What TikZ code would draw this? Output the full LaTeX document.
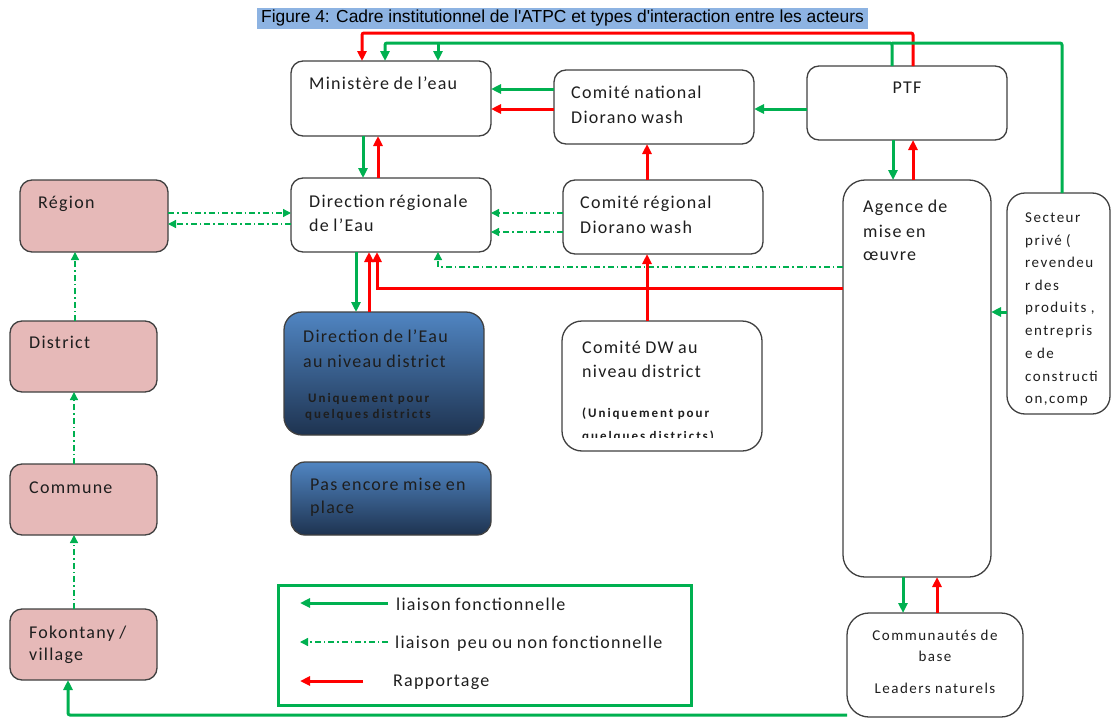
\documentclass[tikz,border=0pt]{standalone}
\usepackage{fontspec}
\setmainfont{Carlito}[LetterSpace=7,WordSpace=0.85]
\newfontfamily\titlefont{Liberation Sans}
\newfontfamily\smallfont{Carlito}[LetterSpace=10,WordSpace=0.9]
\newfontfamily\tinyfont{Carlito}[LetterSpace=15,WordSpace=0.9]
\usetikzlibrary{arrows.meta}
\definecolor{gr}{HTML}{00B050}
\definecolor{rd}{HTML}{FF0000}
\definecolor{pinkf}{HTML}{E6B9B8}
\definecolor{bord}{HTML}{404040}
\definecolor{hl}{HTML}{8DB3E2}
\definecolor{bluet}{HTML}{5085C2}
\definecolor{blueb}{HTML}{1E3350}
\definecolor{ink}{HTML}{1E1E1E}
\newcommand\mkbox[6][]{%
  \node[box,#1,minimum width={#5-#3},minimum height={#6-#4}] (#2) at ({(#3+#5)/2},{(#4+#6)/2}) {};}
\begin{document}
\begin{tikzpicture}[x=1pt,y=-1pt,
  box/.style={draw=bord, line width=1.3pt, rounded corners=12pt, fill=white, inner sep=0pt, outer sep=0pt},
  pinkbox/.style={fill=pinkf},
  bluebox/.style={top color=bluet, bottom color=blueb},
  txt/.style={inner sep=0pt, anchor=base west, text=ink, font=\fontsize{18}{22}\selectfont},
  smalltxt/.style={inner sep=0pt, anchor=base west, text=ink, font=\tinyfont\bfseries\fontsize{13}{15}\selectfont},
  sectxt/.style={inner sep=0pt, anchor=base west, text=ink, font=\smallfont\fontsize{15}{18}\selectfont},
  comtxt/.style={inner sep=0pt, anchor=base, text=ink, font=\smallfont\fontsize{15}{18}\selectfont},
  garrow/.style={draw=gr, line width=3pt, -{Triangle[length=10pt,width=9pt]}},
  gline/.style={draw=gr, line width=3pt},
  rarrow/.style={draw=rd, line width=3pt, -{Triangle[length=10pt,width=9pt]}},
  darrow/.style={draw=gr, line width=1.3pt, dash pattern=on 6pt off 3pt on 1.5pt off 3pt, -{Triangle[length=8pt,width=8pt]}},
]
\useasboundingbox (0,0) rectangle (1112,720);

% title
\node[fill=hl, inner sep=0pt, minimum width=611, minimum height=21, font=\titlefont\fontsize{17.4}{19}\selectfont] (title) at (562.5,18.5) {Figure 4: Cadre institutionnel de l'ATPC et types d'interaction entre les acteurs};

% boxes
\mkbox{mini}{291}{61}{491}{136}
\mkbox{cn}{554}{70}{754}{144}
\mkbox{ptf}{807}{66}{1007}{140}
\mkbox[pinkbox]{reg}{20}{180}{168}{252}
\mkbox{dre}{291}{178}{491}{252}
\mkbox{cr}{563}{180}{763}{254}
\mkbox[rounded corners=22pt]{ag}{843}{180}{991}{577}
\mkbox[rounded corners=18pt]{sect}{1007}{193}{1110}{414}
\mkbox[pinkbox]{dist}{10}{321}{157}{392}
\mkbox[pinkbox]{comn}{10}{464}{157}{535}
\mkbox[pinkbox]{fok}{10}{609}{157}{680}
\mkbox[bluebox,rounded corners=18pt]{dd}{284}{312}{484}{435}
\mkbox[rounded corners=20pt]{cdw}{562}{321}{762}{451}
\mkbox[bluebox,rounded corners=14pt]{pas}{291}{462}{491}{535}
\mkbox[rounded corners=22pt]{comm}{847}{613}{1023}{717}
\node[draw=gr, line width=3pt, minimum width=413, minimum height=120, inner sep=0pt] (legend) at (484.5,645) {};

% texts
\node[txt] (t1) at (309,89) {Ministère de l’eau};
\node[txt] (t2) at (571,98) {Comité national};
\node[txt] (t3) at (571,123) {Diorano wash};
\node[txt, anchor=base] (t4) at (907,93) {PTF};
\node[txt] (t5) at (38,208) {Région};
\node[txt] (t6) at (309,207) {Direction régionale};
\node[txt] (t7) at (309,231) {de l’Eau};
\node[txt] (t8) at (580,208) {Comité régional};
\node[txt] (t9) at (580,233) {Diorano wash};
\node[txt] (t10) at (303,342) {Direction de l’Eau};
\node[txt] (t11) at (303,367) {au niveau district};
\node[smalltxt] (t12) at (308,402) {Uniquement pour};
\node[smalltxt] (t13) at (305,418) {quelques districts};
\node[txt] (t14) at (582,353) {Comité DW au};
\node[txt] (t15) at (582,377) {niveau district};
\node[smalltxt] (t16) at (582,417) {(Uniquement pour};
\begin{scope}
\clip (562,425) rectangle (762,437.5);
\node[smalltxt] (t17) at (582,440) {quelques districts)};
\end{scope}
\node[txt] (t18) at (310,490) {Pas encore mise en};
\node[txt] (t19) at (310,513) {place};
\node[txt] (t20) at (863,212) {Agence de};
\node[txt] (t21) at (863,237) {mise en};
\node[txt] (t22) at (863,260) {œuvre};
\node[sectxt] (s1) at (1025,222) {Secteur};
\node[sectxt] (s2) at (1025,245) {privé (};
\node[sectxt] (s3) at (1025,267) {revendeu};
\node[sectxt] (s4) at (1025,290) {r des};
\node[sectxt] (s5) at (1025,312) {produits ,};
\node[sectxt] (s6) at (1025,335) {entrepris};
\node[sectxt] (s7) at (1025,358) {e de};
\node[sectxt] (s8) at (1025,381) {constructi};
\node[sectxt] (s9) at (1025,403) {on,comp};
\node[txt] (t23) at (29,348) {District};
\node[txt] (t24) at (29,493) {Commune};
\node[txt] (t25) at (29,638) {Fokontany /};
\node[txt] (t26) at (29,660) {village};
\node[comtxt] (t27) at (935,640) {Communautés de};
\node[comtxt] (t28) at (935,661) {base};
\node[comtxt] (t29) at (935,693) {Leaders naturels};

% legend items
\coordinate (l1a) at (388,603); \coordinate (l1b) at (300,603);
\coordinate (l2a) at (388,642); \coordinate (l2b) at (300,642);
\coordinate (l3a) at (363,681); \coordinate (l3b) at (300,681);
\draw[garrow] (l1a) -- (l1b);
\draw[darrow] (l2a) -- (l2b);
\draw[rarrow] (l3a) -- (l3b);
\node[txt] (lt1) at (396,610) {liaison fonctionnelle};
\node[txt] (lt2) at (395,648) {liaison \,peu ou non fonctionnelle};
\node[txt] (lt3) at (393,686) {Rapportage};

% top connectors
\draw[rarrow, rounded corners=2pt] (ptf.north -| 913,0) -- (913,33) -- (362,33) -- (mini.north -| 362,0);
\draw[garrow, rounded corners=2pt] (ptf.north -| 892,0) -- (892,43) -- (385,43) -- (mini.north -| 385,0);
\draw[garrow] (438,43) -- (mini.north -| 438,0);
\draw[gline, rounded corners=2pt] (sect.north -| 1062,0) -- (1062,43) -- (892,43);

% ministere - comite national - ptf
\draw[garrow] (cn.west |- 0,89) -- (mini.east |- 0,89);
\draw[rarrow] (cn.west |- 0,109) -- (mini.east |- 0,109);
\draw[garrow] (ptf.west |- 0,109) -- (cn.east |- 0,109);

% ministere - DRE
\draw[garrow] (mini.south -| 363,0) -- (dre.north -| 363,0);
\draw[rarrow] (dre.north -| 378,0) -- (mini.south -| 378,0);

% CR -> CN
\draw[rarrow] (cr.north -| 647,0) -- (cn.south -| 647,0);

% region - DRE
\draw[darrow] (reg.east |- 0,213) -- (dre.west |- 0,213);
\draw[darrow] (dre.west |- 0,224) -- (reg.east |- 0,224);
% CR -> DRE
\draw[darrow] (cr.west |- 0,213) -- (dre.east |- 0,213);
\draw[darrow] (cr.west |- 0,232) -- (dre.east |- 0,232);
% agence -> DRE
\draw[darrow] (ag.west |- 0,267) -- (438,267) -- (dre.south -| 438,0);
\draw[rarrow] (ag.west |- 0,288) -- (377,288) -- (dre.south -| 377,0);
% DRE - DD
\draw[garrow] (dre.south -| 356,0) -- (dd.north -| 356,0);
\draw[rarrow] (dd.north -| 369,0) -- (dre.south -| 369,0);
% CDW -> CR
\draw[rarrow] (cdw.north -| 647,0) -- (cr.south -| 647,0);
% PTF - agence
\draw[garrow] (ptf.south -| 893,0) -- (ag.north -| 893,0);
\draw[rarrow] (ag.north -| 913,0) -- (ptf.south -| 913,0);
% secteur -> agence
\draw[garrow] (sect.west |- 0,312) -- (ag.east |- 0,312);
% agence - communautes
\draw[garrow] (ag.south -| 903,0) -- (comm.north -| 903,0);
\draw[rarrow] (comm.north -| 937,0) -- (ag.south -| 937,0);
% left chain
\draw[darrow] (dist.north -| 75,0) -- (reg.south -| 75,0);
\draw[darrow] (comn.north -| 74,0) -- (dist.south -| 74,0);
\draw[darrow] (fok.north -| 74,0) -- (comn.south -| 74,0);
% communautes -> fokontany
\draw[garrow, rounded corners=2pt] (comm.west |- 0,715) -- (68,715) -- (fok.south -| 68,0);
\end{tikzpicture}
\end{document}
